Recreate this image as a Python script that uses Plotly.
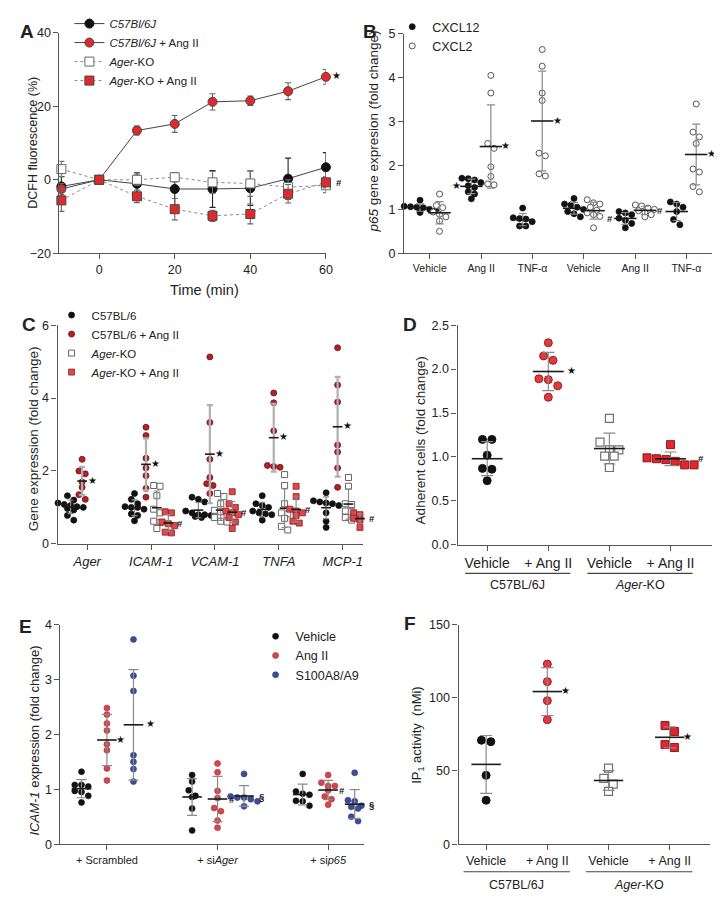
import numpy as np
import plotly.graph_objects as go

W, H = 722, 919
FONT = "Liberation Sans, Arial, sans-serif"
INK = "#222222"
AXIS = "#555555"

# ---------------- A: DCFH fluorescence time course ----------------
a_time = [-10, 0, 10, 20, 30, 40, 50, 60]
a_wt = [-1.8, 0.0, -1.1, -2.5, -2.5, -2.3, 0.3, 3.4]
a_wt_err = [2.7, 0.4, 3.0, 4.5, 5.0, 4.7, 5.6, 4.0]
a_wt_ang = [-2.5, 0.0, 13.4, 15.2, 21.2, 21.5, 24.1, 28.0]
a_wt_ang_err = [1.5, 0.4, 1.2, 2.3, 2.2, 1.3, 2.3, 2.0]
a_ko = [2.9, 0.0, 0.0, 0.7, -0.7, -1.0, -2.0, -1.5]
a_ko_err = [2.1, 0.4, 1.5, 1.3, 3.0, 3.5, 2.0, 2.0]
a_ko_ang = [-5.6, 0.0, -4.5, -8.0, -9.8, -9.3, -3.8, -0.7]
a_ko_ang_err = [3.0, 0.4, 1.7, 2.9, 1.5, 2.7, 2.5, 1.5]

# ---------------- B: p65 gene expression ----------------
b_labels = ["Vehicle", "Ang II", "TNF-α", "Vehicle", "Ang II", "TNF-α"]
b_cxcl12 = [
    [1.21, 1.07, 1.06, 1.05, 1.04, 1.00, 0.97, 0.93],
    [1.71, 1.70, 1.67, 1.61, 1.54, 1.50, 1.40, 1.35, 1.24],
    [1.03, 0.81, 0.79, 0.78, 0.72, 0.62, 0.62],
    [1.25, 1.12, 1.10, 1.05, 1.00, 0.95, 0.90, 0.83],
    [0.95, 0.92, 0.88, 0.80, 0.75, 0.68, 0.58],
    [1.17, 1.12, 1.05, 0.95, 0.77, 0.65],
]
b_cxcl2 = [
    [1.35, 1.09, 1.04, 0.94, 0.89, 0.83, 0.74, 0.50],
    [4.05, 3.65, 2.50, 2.39, 1.97, 1.75, 1.58, 1.56],
    [4.64, 4.26, 3.65, 3.48, 2.28, 2.22, 1.81, 1.76],
    [1.22, 1.15, 1.12, 1.05, 0.98, 0.92, 0.88, 0.84, 0.58],
    [1.10, 1.08, 1.03, 1.00, 0.97, 0.93, 0.88, 0.83],
    [3.40, 2.76, 2.65, 2.50, 1.92, 1.85, 1.52, 1.40],
]
b_sig12 = ["", "*", "", "", "#", ""]
b_sig2 = ["", "*", "*", "", "#", "*"]

# ---------------- C: gene expression ----------------
c_genes = ["Ager", "ICAM-1", "VCAM-1", "TNFA", "MCP-1"]
c_wt = [
    [1.32, 1.20, 1.12, 1.08, 1.05, 1.02, 1.00, 0.97, 0.93, 0.78, 0.65],
    [1.38, 1.22, 1.10, 1.02, 1.00, 1.00, 0.95, 0.82, 0.78, 0.63],
    [1.28, 1.22, 1.15, 0.90, 0.85, 0.80, 0.80, 0.78, 0.75, 0.72],
    [1.32, 1.10, 1.05, 1.00, 0.90, 0.85, 0.82, 0.80, 0.65],
    [1.40, 1.18, 1.15, 1.12, 1.10, 1.05, 0.85, 0.62, 0.45],
]
c_wt_ang = [
    [2.32, 2.00, 1.92, 1.70, 1.55, 1.35, 1.22],
    [3.20, 2.97, 2.35, 2.08, 1.87, 1.52, 1.28],
    [5.13, 3.33, 2.32, 1.82, 1.65, 1.60, 1.38],
    [4.14, 3.87, 3.10, 2.15, 2.12, 2.10],
    [5.38, 4.36, 3.89, 2.71, 2.52, 2.08, 1.55],
]
c_ko = [
    [],
    [1.60, 1.58, 1.32, 0.95, 0.85, 0.62, 0.58, 0.42],
    [1.38, 1.30, 1.10, 0.92, 0.88, 0.80, 0.72, 0.62, 0.60],
    [1.90, 1.60, 1.10, 0.85, 0.82, 0.70, 0.48, 0.38],
    [1.82, 1.58, 1.10, 1.08, 0.90, 0.88, 0.72, 0.65],
]
c_ko_ang = [
    [],
    [0.88, 0.85, 0.60, 0.55, 0.50, 0.32, 0.30],
    [1.43, 1.10, 1.00, 0.90, 0.85, 0.80, 0.72, 0.60, 0.42],
    [1.58, 1.30, 0.95, 0.90, 0.85, 0.78, 0.62, 0.57],
    [0.85, 0.80, 0.78, 0.70, 0.65, 0.60, 0.45],
]

# ---------------- D: adherent cells ----------------
d_labels = ["Vehicle", "+ Ang II", "Vehicle", "+ Ang II"]
d_values = [
    [1.20, 1.20, 1.02, 0.87, 0.86, 0.73],
    [2.30, 2.15, 2.10, 1.88, 1.89, 1.81, 1.68],
    [1.44, 1.17, 1.08, 1.08, 1.01, 1.01, 0.88],
    [1.14, 0.98, 0.95, 0.91, 0.91, 0.97, 0.99],
]
d_sig = ["", "*", "", "#"]

# ---------------- E: ICAM-1 expression ----------------
e_labels = ["+ Scrambled", "+ si<i>Ager</i>", "+ si<i>p65</i>"]
e_vehicle = [
    [1.32, 1.08, 1.08, 1.05, 0.97, 0.95, 0.88, 0.76],
    [1.26, 1.14, 0.98, 0.88, 0.86, 0.65, 0.25],
    [1.28, 0.96, 0.92, 0.90, 0.79, 0.78, 0.70],
]
e_angii = [
    [2.48, 2.36, 2.20, 2.07, 1.82, 1.71, 1.38, 1.16],
    [1.47, 1.31, 0.97, 0.84, 0.66, 0.60, 0.43, 0.30],
    [1.26, 1.12, 1.06, 1.06, 0.98, 0.87, 0.82, 0.72],
]
e_s100 = [
    [3.73, 3.07, 2.79, 1.62, 1.50, 1.37, 1.14],
    [1.28, 0.87, 0.85, 0.85, 0.82, 0.78, 0.69],
    [1.30, 0.80, 0.78, 0.70, 0.68, 0.65, 0.50, 0.42],
]
e_sig_ang = ["*", "#", "#"]
e_sig_s100 = ["*", "§", "§"]

# ---------------- F: IP1 activity ----------------
f_labels = ["Vehicle", "+ Ang II", "Vehicle", "+ Ang II"]
f_values = [
    [71, 70, 47, 30],
    [123, 111, 98, 85],
    [52, 45, 41, 36],
    [81, 77, 68, 66],
]
f_sig = ["", "*", "", "*"]

group_names = ["C57BL/6J", "<i>Ager</i>-KO"]

fig = go.Figure()
SCALE = {}

common = dict(showline=True, linecolor=AXIS, linewidth=1.3, ticks="outside", ticklen=5,
              tickwidth=1.3, tickcolor=AXIS, showgrid=False, zeroline=False,
              fixedrange=True)


def axes(n, xpx, ypx, xr, yr, xticks, xtext, yticks, xfont=12, yfont=12.5, yfmt=None):
    s = "" if n == 1 else str(n)
    fig.update_layout(**{
        "xaxis" + s: dict(domain=[xpx[0] / W, xpx[1] / W], range=xr, anchor="y" + s,
                          tickmode="array", tickvals=xticks, ticktext=xtext,
                          tickfont=dict(family=FONT, size=xfont, color=INK), **common),
        "yaxis" + s: dict(domain=[1 - ypx[1] / H, 1 - ypx[0] / H], range=yr, anchor="x" + s,
                          tickmode="array", tickvals=yticks, tickformat=yfmt,
                          tickfont=dict(family=FONT, size=yfont, color=INK), **common),
    })
    SCALE["x" + s] = ((xpx[1] - xpx[0]) / (xr[1] - xr[0]), (ypx[1] - ypx[0]) / (yr[1] - yr[0]))
    return "x" + s, "y" + s


def swarm(vals, d, sx, sy):
    # rows of near-equal values are spread sideways, Prism style
    v = np.asarray(vals, float)
    order = np.argsort(-v, kind="stable")
    off = np.zeros(len(v))
    rows, cur = [], []
    for i in order:
        if cur and (v[cur[0]] - v[i]) * sy >= 0.85 * d:
            rows.append(cur)
            cur = []
        cur.append(i)
    rows.append(cur)
    for r in rows:
        n = len(r)
        for j, i in enumerate(r):
            off[i] = (j - (n - 1) / 2) * d / sx
    return off


def dots(xa, ya, groups, positions, marker, d, name=None, legend=None,
         mean_len=14, cap=4, err_color="#8a8a8a", err_w=1.2):
    sx, sy = SCALE[xa]
    xx, yy, mx, my, sd = [], [], [], [], []
    for vals, pos in zip(groups, positions):
        if not vals:
            continue
        v = np.asarray(vals, float)
        xx += list(pos + swarm(v, d, sx, sy))
        yy += list(v)
        mx.append(pos)
        my.append(v.mean())
        sd.append(v.std(ddof=1))
    fig.add_trace(go.Scatter(x=xx, y=yy, mode="markers", marker=marker, name=name,
                             showlegend=legend is not None, legend=legend or "legend",
                             xaxis=xa, yaxis=ya, cliponaxis=False, hoverinfo="y"))
    fig.add_trace(go.Scatter(x=mx, y=my, mode="markers", showlegend=False, hoverinfo="skip",
                             marker=dict(symbol="line-ew", size=mean_len,
                                         line=dict(width=1.6, color="#1a1a1a")),
                             error_y=dict(type="data", array=sd, color=err_color,
                                          thickness=err_w, width=cap),
                             xaxis=xa, yaxis=ya, cliponaxis=False))
    return mx, my


def sig(xa, ya, x, y, text, dx):
    star = text == "*"
    fig.add_annotation(x=x, y=y, xref=xa, yref=ya, text="★" if star else "<b>%s</b>" % text,
                       showarrow=False, xanchor="center", yanchor="middle", xshift=dx,
                       yshift=1 if star else 0,
                       font=dict(family="DejaVu Sans" if star else FONT,
                                 size=10 if star else 9.5, color="#111111"))


def label(x, y, text, size, angle=0, bold=False):
    if bold:
        text = "<b>" + text + "</b>"
    fig.add_annotation(x=x / W, y=1 - y / H, xref="paper", yref="paper", text=text,
                       showarrow=False, xanchor="center", yanchor="middle", textangle=angle,
                       font=dict(family=FONT, size=size, color=INK))


# ================= Panel A =================
xa, ya = axes(1, (52, 321), (18, 242), [-10.5, 60], [-20, 40],
              [0, 20, 40, 60], ["0", "20", "40", "60"], [-20, 0, 20, 40], xfont=12.5, yfont=12.5)
a_series = [
    ("<i>C57Bl/6J</i>", a_wt, a_wt_err, "circle", "#111111", "#111111", "solid", "#444444", "#222222"),
    ("<i>C57Bl/6J</i> + Ang II", a_wt_ang, a_wt_ang_err, "circle", "#e3282c", "#444444", "solid", "#444444", "#666666"),
    ("<i>Ager</i>-KO", a_ko, a_ko_err, "square", "#ffffff", "#666666", "dot", "#888888", "#777777"),
    ("<i>Ager</i>-KO + Ang II", a_ko_ang, a_ko_ang_err, "square", "#e3282c", "#444444", "dot", "#888888", "#666666"),
]
for name, yv, err, sym, fill, edge, dash, lc, ec in a_series:
    fig.add_trace(go.Scatter(
        x=a_time, y=yv, mode="lines+markers", name=name, legend="legend",
        line=dict(color=lc, width=1, dash=dash),
        marker=dict(symbol=sym, size=9, color=fill, line=dict(color=edge, width=1)),
        error_y=dict(type="data", array=err, color=ec, thickness=1.1, width=3),
        xaxis=xa, yaxis=ya, cliponaxis=False))
sig(xa, ya, a_time[-1], a_wt_ang[-1], "*", 11)
sig(xa, ya, a_time[-1], a_ko_ang[-1], "#", 13)

# ================= Panel B =================
xa, ya = axes(2, (400, 711), (19, 242), [-0.5, 5.5], [0, 5],
              list(range(6)), b_labels, [0, 1, 2, 3, 4, 5], xfont=10.5, yfont=12.5)
pos12 = [i - 0.19 for i in range(6)]
pos2 = [i + 0.19 for i in range(6)]
m12 = dots(xa, ya, b_cxcl12, pos12, dict(symbol="circle", size=6, color="#111111",
                                          line=dict(color="#111111", width=0.8)),
           6.4, name="CXCL12", legend="legend2", mean_len=16, cap=4)
m2 = dots(xa, ya, b_cxcl2, pos2, dict(symbol="circle", size=6, color="#ffffff",
                                       line=dict(color="#555555", width=1)),
          6.4, name="CXCL2", legend="legend2", mean_len=16, cap=4)
for x, y, s in zip(*m12, b_sig12):
    if s:
        sig(xa, ya, x, y, s, -15)
for x, y, s in zip(*m2, b_sig2):
    if s:
        sig(xa, ya, x, y, s, 15)

# ================= Panel C =================
xa, ya = axes(3, (50, 358), (315, 537), [-0.465, 4.31], [0, 6],
              list(range(5)), ["<i>%s</i>" % g for g in c_genes], [0, 2, 4, 6],
              xfont=13, yfont=12.5)
c_off = [-0.26, -0.08, 0.09, 0.27]
c_series = [
    ("C57BL/6", c_wt, dict(symbol="circle", size=6, color="#111111", line=dict(color="#111111", width=0.8)), "#8a8a8a", 1.2),
    ("C57BL/6 + Ang II", c_wt_ang, dict(symbol="circle", size=6, color="#b3202a", line=dict(color="#6e1218", width=0.8)), "#b0b0b0", 2.2),
    ("<i>Ager</i>-KO", c_ko, dict(symbol="square", size=6, color="#ffffff", line=dict(color="#666666", width=1)), "#8a8a8a", 1.2),
    ("<i>Ager</i>-KO + Ang II", c_ko_ang, dict(symbol="square", size=6, color="#e0474c", line=dict(color="#8c1f22", width=0.8)), "#8a8a8a", 1.2),
]
c_means = []
for k, (name, groups, mk, ecol, ew) in enumerate(c_series):
    pos = [g + c_off[k] for g in range(5)]
    c_means.append(dots(xa, ya, groups, pos, mk, 6.4, name=name, legend="legend3",
                        mean_len=7, cap=3, err_color=ecol, err_w=ew))
for x, y in zip(*c_means[1]):
    sig(xa, ya, x, y, "*", 10)
for x, y in zip(*c_means[3]):
    sig(xa, ya, x, y, "#", 12)

# ================= Panel D =================
group_style = [
    dict(symbol="circle", color="#111111", line=dict(color="#111111", width=1)),
    dict(symbol="circle", color="#e23b3f", line=dict(color="#9a1c20", width=1)),
    dict(symbol="square", color="#ffffff", line=dict(color="#707070", width=1.2)),
    dict(symbol="square", color="#e0262e", line=dict(color="#8c1a1a", width=1)),
]
xa, ya = axes(4, (454, 711), (315, 538), [-0.484, 3.68], [0, 2.5],
              [0, 1, 2, 3], d_labels, [0, 0.5, 1, 1.5, 2, 2.5], xfont=14, yfont=12.5, yfmt=".1f")
for k, vals in enumerate(d_values):
    mx, my = dots(xa, ya, [vals], [k], dict(size=8, **group_style[k]), 9.5,
                  mean_len=22, cap=6)
    if d_sig[k]:
        sig(xa, ya, mx[0], my[0], d_sig[k], 23 if d_sig[k] == "*" else 30)
for gx, gname in zip([0.5, 2.5], group_names):
    fig.add_shape(type="line", xref=xa, yref="paper", x0=gx - 0.86, x1=gx + 0.86,
                  y0=1 - 567 / H, y1=1 - 567 / H, line=dict(color="#444444", width=1.2))
    fig.add_annotation(x=gx, y=1 - 579 / H, xref=xa, yref="paper", text=gname, showarrow=False,
                       yanchor="middle", font=dict(family=FONT, size=12.5, color=INK))

# ================= Panel E =================
xa, ya = axes(5, (53, 359), (619, 842), [-0.42, 2.32], [0, 4],
              [0, 1, 2], e_labels, [0, 1, 2, 3, 4], xfont=11, yfont=12.5)
e_off = [-0.23, 0.0, 0.24]
e_series = [
    ("Vehicle", e_vehicle, "#111111", "#111111"),
    ("Ang II", e_angii, "#d6454f", "#a83038"),
    ("S100A8/A9", e_s100, "#3b4f99", "#2a3870"),
]
e_means = []
for k, (name, groups, col, edge) in enumerate(e_series):
    pos = [g + e_off[k] for g in range(3)]
    e_means.append(dots(xa, ya, groups, pos,
                        dict(symbol="circle", size=6, color=col, line=dict(color=edge, width=0.6)),
                        6.8, name=name, legend="legend4", mean_len=14, cap=5))
for x, y, s in zip(*e_means[1], e_sig_ang):
    sig(xa, ya, x, y, s, 14)
for x, y, s in zip(*e_means[2], e_sig_s100):
    sig(xa, ya, x, y, s, 17)

# ================= Panel F =================
xa, ya = axes(6, (455, 709), (619, 842), [-0.45, 3.66], [0, 150],
              [0, 1, 2, 3], f_labels, [0, 50, 100, 150], xfont=12.5, yfont=12.5)
for k, vals in enumerate(f_values):
    mx, my = dots(xa, ya, [vals], [k], dict(size=8, **group_style[k]), 9.5,
                  mean_len=21, cap=6)
    if f_sig[k]:
        sig(xa, ya, mx[0], my[0], f_sig[k], 18)
for gx, gname in zip([0.5, 2.5], group_names):
    fig.add_shape(type="line", xref=xa, yref="paper", x0=gx - 0.87, x1=gx + 0.87,
                  y0=1 - 870 / H, y1=1 - 870 / H, line=dict(color="#444444", width=1.2))
    fig.add_annotation(x=gx, y=1 - 883 / H, xref=xa, yref="paper", text=gname, showarrow=False,
                       yanchor="middle", font=dict(family=FONT, size=12.5, color=INK))

# ---------------- titles and panel letters ----------------
label(198, 279, "Time (min)", 14.5)
label(25, 130, "DCFH fluorescence (%)", 12.5, angle=-90)
label(369, 118, "<i>p65</i> gene expresion (fold change)", 13.5, angle=-90)
label(26, 430, "Gene expression (fold change)", 13.5, angle=-90)
label(416, 432, "Adherent cells (fold change)", 13.5, angle=-90)
label(27, 737, "<i>ICAM-1</i> expression (fold change)", 13, angle=-90)
label(414, 731, "IP<sub>1</sub> activity  (nMi)", 13, angle=-90)

for x, y, t in [(19, 17, "A"), (366, 17, "B"), (21, 314, "C"),
                (406, 314, "D"), (18, 621, "E"), (406, 618, "F")]:
    label(x, y, t, 19, bold=True)

leg = dict(bgcolor="rgba(0,0,0,0)", borderwidth=0, xanchor="left", yanchor="top",
           tracegroupgap=0, itemclick=False, itemdoubleclick=False)
fig.update_layout(
    width=W, height=H, margin=dict(l=0, r=0, t=0, b=0),
    paper_bgcolor="white", plot_bgcolor="white",
    font=dict(family=FONT, color=INK),
    legend=dict(x=62 / W, y=1 + 6 / H, font=dict(family=FONT, size=11.5, color=INK), **leg),
    legend2=dict(x=388 / W, y=1 + 3 / H, font=dict(family=FONT, size=12.5, color=INK), **leg),
    legend3=dict(x=44 / W, y=1 - 290 / H, font=dict(family=FONT, size=11.5, color=INK), **leg),
    legend4=dict(x=250 / W, y=1 - 616 / H, font=dict(family=FONT, size=12.5, color=INK), **leg),
)

fig.write_html("out.html")
